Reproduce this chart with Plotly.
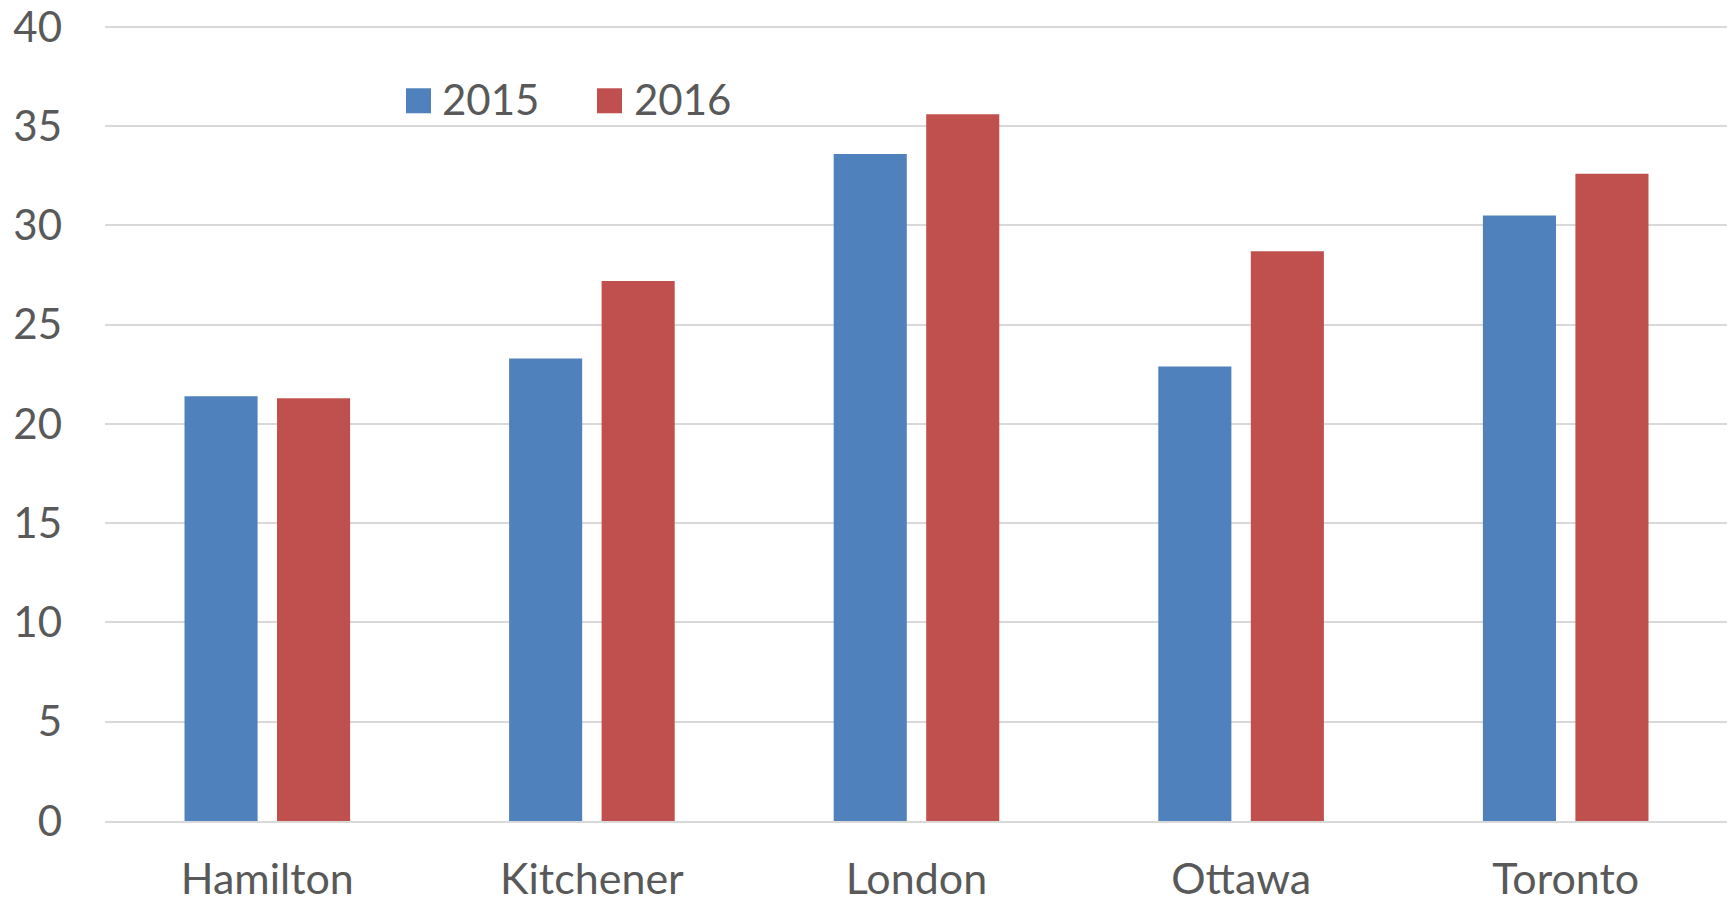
import plotly.graph_objects as go

cities = ["Hamilton", "Kitchener", "London", "Ottawa", "Toronto"]
series_names = ["2015", "2016"]
values_2015 = [21.4, 23.3, 33.6, 22.9, 30.5]
values_2016 = [21.3, 27.2, 35.6, 28.7, 32.6]
colors = ["#4F81BD", "#C0504D"]
y_ticks = [0, 5, 10, 15, 20, 25, 30, 35, 40]

FONT = "Lato"
TXT = "#595959"

fig = go.Figure()
for name, vals, col in zip(series_names, [values_2015, values_2016], colors):
    fig.add_trace(go.Bar(x=cities, y=vals, name=name, marker_color=col,
                         marker_line_width=0, showlegend=False))

# page has an 8px body margin; work in window pixels
OX, OY = 8, 8
W, H = 1727, 893
L, R, T, B = 105, 1728, 20.7, 821   # plot box in window px
ml, mr = L - OX, (OX + W) - R
mt, mb = T - OY, (OY + H) - B

def px_x(p):
    return (p - L) / (R - L)

def px_y(p):
    return (B - p) / (B - T)

# manual legend (large swatches like the original)
legend_sw = [(406, 431), (597, 622)]
legend_tx = [440, 632]
for name, col, (x0, x1), tx in zip(series_names, colors, legend_sw, legend_tx):
    fig.add_shape(type="rect", xref="paper", yref="paper",
                  x0=px_x(x0), x1=px_x(x1), y0=px_y(113), y1=px_y(88),
                  fillcolor=col, line_width=0)
    fig.add_annotation(text=name, xref="paper", yref="paper",
                       x=px_x(tx), y=px_y(99), xanchor="left", yanchor="middle",
                       showarrow=False, font=dict(family=FONT, size=42, color=TXT))

fig.update_layout(
    width=W, height=H,
    margin=dict(l=ml, r=mr, t=mt, b=mb, autoexpand=False),
    paper_bgcolor="white", plot_bgcolor="white",
    barmode="group", bargap=0.43, bargroupgap=0.21,
    font=dict(family=FONT, size=42, color=TXT),
    xaxis=dict(showgrid=False, showline=True, linecolor="#d9d9d9", linewidth=2,
               ticks="", ticklabelstandoff=19, automargin=False,
               ticklabeloverflow="allow",
               tickfont=dict(family=FONT, size=43, color=TXT)),
    yaxis=dict(range=[0, 40.3], tickvals=y_ticks, showgrid=True,
               gridcolor="#d9d9d9", gridwidth=1.5, zeroline=False,
               showline=False, ticks="", ticklabelstandoff=42, automargin=False,
               ticklabeloverflow="allow",
               tickfont=dict(family=FONT, size=42, color=TXT)),
)

fig.write_html("out.html")
